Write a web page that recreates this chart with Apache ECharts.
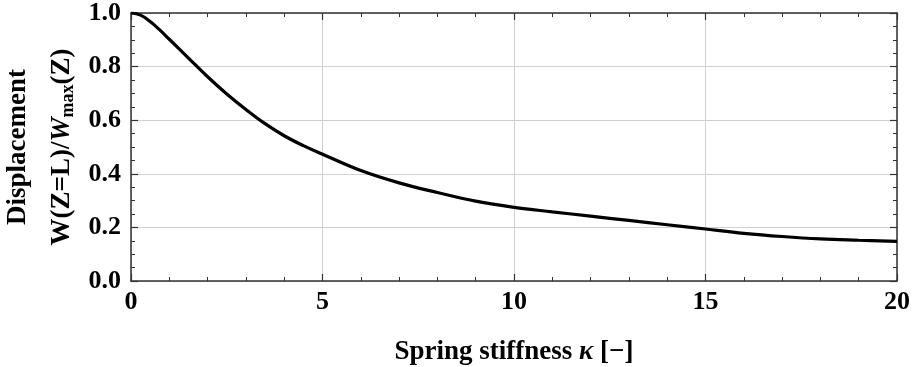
<!DOCTYPE html>
<html>
<head>
<meta charset="utf-8">
<script src="https://cdn.jsdelivr.net/npm/echarts@6/dist/echarts.min.js"></script>
<style>
  html, body { margin: 0; padding: 0; background: #fff; }
  #chart { width: 914px; height: 367px; }
</style>
</head>
<body>
<div id="chart"></div>
<script>
// spring stiffness values (x) and normalised displacement (y)
const kappa = [0, 0.25, 0.5, 0.75, 1, 1.5, 2, 2.5, 3, 3.5, 4, 4.5, 5, 6, 7, 8, 9, 10, 11, 12, 13, 14, 15, 16, 17, 18, 19, 20];
const displacement = [1.0, 0.992, 0.968, 0.937, 0.902, 0.832, 0.762, 0.698, 0.64, 0.587, 0.542, 0.505, 0.473, 0.412, 0.366, 0.33, 0.298,
  0.275, 0.258, 0.242, 0.226, 0.21, 0.194, 0.178, 0.166, 0.157, 0.152, 0.148];

const FONT = 'Liberation Serif';
const axisColor = '#333';

const chart = echarts.init(document.getElementById('chart'));

// shared frame settings; onZero off so the top/right copies stay on the box edges
const xBase = {
    type: 'value',
    min: 0,
    max: 20,
    interval: 5,
    axisLine: { show: true, onZero: false, lineStyle: { color: axisColor, width: 1.5 } },
    axisTick: { show: true, inside: true, length: 7, lineStyle: { color: axisColor, width: 1.2 } },
    minorTick: { show: true, splitNumber: 5, length: 4, lineStyle: { color: axisColor, width: 1 } },
};
const yBase = {
    type: 'value',
    min: 0,
    max: 1,
    interval: 0.2,
    axisLine: { show: true, onZero: false, lineStyle: { color: axisColor, width: 1.5 } },
    axisTick: { show: true, inside: true, length: 7, lineStyle: { color: axisColor, width: 1.2 } },
    minorTick: { show: true, splitNumber: 4, length: 4, lineStyle: { color: axisColor, width: 1 } },
};

chart.setOption({
    animation: false,
    backgroundColor: '#fff',
    grid: { left: 131, right: 17, top: 13, bottom: 86, containLabel: false, outerBoundsMode: 'none' },
    xAxis: [
        Object.assign({}, xBase, {
            position: 'bottom',
            axisLabel: { color: '#000', fontFamily: FONT, fontWeight: 'bold', fontSize: 26, margin: 8 },
            splitLine: { show: true, lineStyle: { color: '#d0d0d0', width: 1 } },
            name: '{b|Spring stiffness }{i|κ}{b| [−]}',
            nameLocation: 'middle',
            nameGap: 58,
            nameTextStyle: {
                rich: {
                    b: { fontFamily: FONT, fontWeight: 'bold', fontSize: 27, color: '#000' },
                    i: { fontFamily: FONT, fontWeight: 'bold', fontStyle: 'italic', fontSize: 27, color: '#000' }
                }
            }
        }),
        Object.assign({}, xBase, {
            position: 'top',
            axisLabel: { show: false },
            splitLine: { show: false }
        })
    ],
    yAxis: [
        Object.assign({}, yBase, {
            position: 'left',
            axisLabel: {
                color: '#000', fontFamily: FONT, fontWeight: 'bold', fontSize: 26, margin: 10,
                formatter: v => v.toFixed(1)
            },
            splitLine: { show: true, lineStyle: { color: '#d0d0d0', width: 1 } },
            name: '{b|Displacement}\n{b|W(Z=L)/}{i|W}{s|max}{b|(Z)}',
            nameLocation: 'middle',
            nameRotate: 90,
            nameGap: 47,
            nameTextStyle: {
                rich: {
                    b: { fontFamily: FONT, fontWeight: 'bold', fontSize: 27, color: '#000', lineHeight: 44 },
                    i: { fontFamily: FONT, fontWeight: 'bold', fontStyle: 'italic', fontSize: 27, color: '#000', lineHeight: 44 },
                    s: { fontFamily: FONT, fontWeight: 'bold', fontSize: 18, color: '#000', lineHeight: 44, padding: [12, 0, 0, 0] }
                }
            }
        }),
        Object.assign({}, yBase, {
            position: 'right',
            axisLabel: { show: false },
            splitLine: { show: false }
        })
    ],
    series: [{
        type: 'line',
        data: kappa.map((k, i) => [k, displacement[i]]),
        smooth: 0.4,
        showSymbol: false,
        lineStyle: { color: '#000', width: 3.2 },
        clip: true
    }]
});
</script>
</body>
</html>
